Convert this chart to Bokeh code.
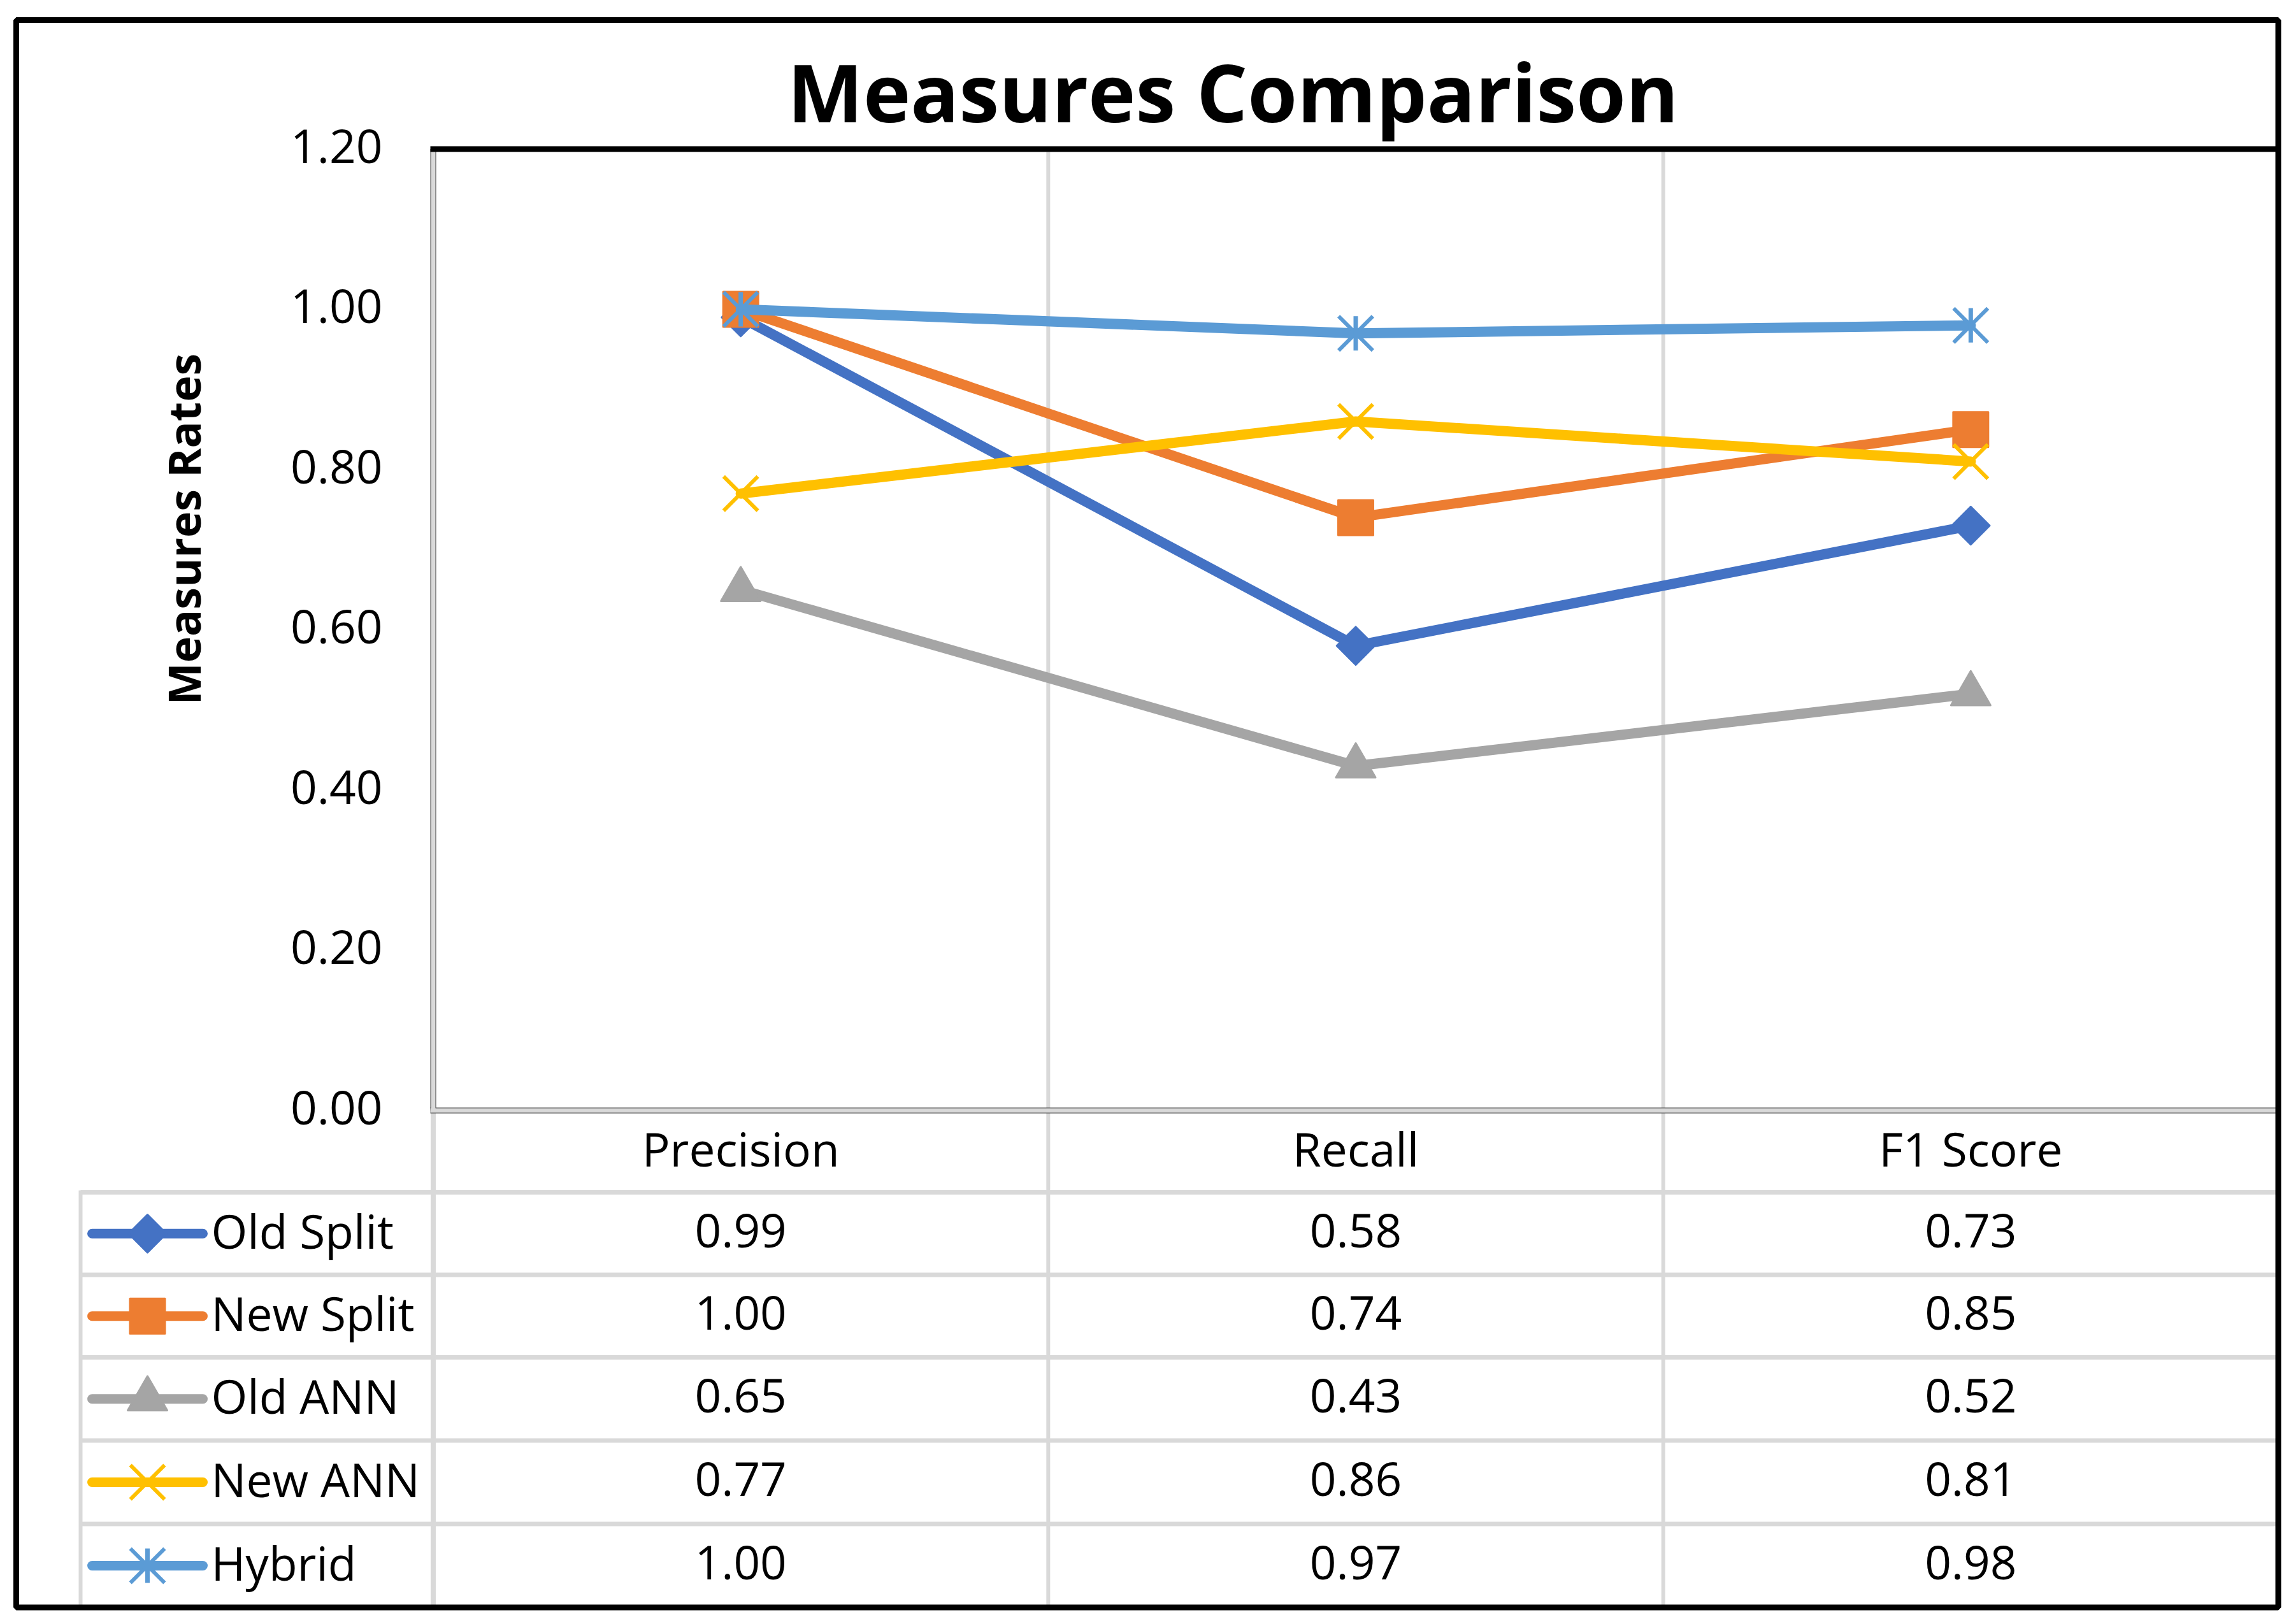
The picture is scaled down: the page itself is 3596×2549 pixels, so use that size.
import math
from bokeh.plotting import figure
from bokeh.models import Range1d
from bokeh.core.properties import value
from bokeh.embed import file_html
from bokeh.resources import INLINE

# ---------------- data ----------------
categories = ["Precision", "Recall", "F1 Score"]
series_names = ["Old Split", "New Split", "Old ANN", "New ANN", "Hybrid"]
old_split = [0.99, 0.58, 0.73]
new_split = [1.00, 0.74, 0.85]
old_ann = [0.65, 0.43, 0.52]
new_ann = [0.77, 0.86, 0.81]
hybrid = [1.00, 0.97, 0.98]
y_ticks = [0.0, 0.2, 0.4, 0.6, 0.8, 1.0, 1.2]
title_text = "Measures Comparison"
y_label = "Measures Rates"

series_values = [old_split, new_split, old_ann, new_ann, hybrid]
colors = ["#4472C4", "#ED7D31", "#A5A5A5", "#FFC000", "#5B9BD5"]

# ---------------- layout (pixels of the 3596x2549 page) ----------------
W, H = 3592, 2545
PAGE = 0
XPX0, XU = 679.5, 965.33     # pixel of category-axis 0 and px per category
YPX0, YU = 1742.5, 1257.5    # pixel of value 0 and px per unit


def fx(px):
    return (px - XPX0) / XU


def fy(py):
    return (YPX0 - py) / YU


p = figure(width=W, height=H, output_backend="svg", toolbar_location=None,
           x_axis_type=None, y_axis_type=None,
           x_range=Range1d(fx(PAGE), fx(PAGE + W)),
           y_range=Range1d(fy(PAGE + H), fy(PAGE)),
           min_border=0, min_border_left=0, min_border_right=0,
           min_border_top=0, min_border_bottom=0)
p.outline_line_color = None
p.background_fill_color = "white"
p.border_fill_color = "white"
p.grid.visible = False

FONT = value("Open Sans")
GRID = "#d9d9d9"

cat_x = [i + 0.5 for i in range(len(categories))]
right_px = 3575.5
row_lines_px = [1871.0, 2000.5, 2130.0, 2260.5, 2391.5]
bottom_px = 2522.5
header_mid_px = (YPX0 + row_lines_px[0]) / 2
row_bounds = row_lines_px + [bottom_px]
row_mid_px = [(row_bounds[i] + row_bounds[i + 1]) / 2 for i in range(len(series_names))]

# vertical category separators (plot + table)
seps = [float(i) for i in range(1, len(categories))]
p.segment(x0=seps, y0=[fy(238)] * len(seps), x1=seps, y1=[fy(bottom_px)] * len(seps),
          line_color=GRID, line_width=6)
# plot-left line continued into table
p.segment(x0=[0.0], y0=[fy(YPX0)], x1=[0.0], y1=[fy(bottom_px)], line_color=GRID, line_width=8)
# table horizontal lines
n = len(row_lines_px)
p.segment(x0=[fx(126)] * n, y0=[fy(v) for v in row_lines_px],
          x1=[fx(right_px)] * n, y1=[fy(v) for v in row_lines_px],
          line_color=GRID, line_width=7)
# table left line
p.segment(x0=[fx(126)], y0=[fy(row_lines_px[0] - 3)], x1=[fx(126)], y1=[fy(bottom_px)],
          line_color=GRID, line_width=6)

# plot frame: left and bottom bands (gray with dark edges), top black line
for col, lw in (("#404040", 9), (GRID, 7)):
    p.segment(x0=[0.0], y0=[fy(233.5)], x1=[0.0], y1=[0.0], line_color=col, line_width=lw)
    p.segment(x0=[fx(675)], y0=[0.0], x1=[fx(right_px)], y1=[0.0], line_color=col, line_width=lw)
p.segment(x0=[fx(675)], y0=[fy(233.5)], x1=[fx(right_px)], y1=[fy(233.5)],
          line_color="black", line_width=9)

# marker styles per series ("x" spans size/sqrt(2) in Bokeh)
marker_styles = [
    [dict(marker="square", size=42, angle=math.pi / 4, lw=3)],
    [dict(marker="square", size=55, angle=0.0, lw=3)],
    [dict(marker="triangle", size=62, angle=0.0, lw=3)],
    [dict(marker="x", size=76, angle=0.0, lw=6)],
    [dict(marker="x", size=76, angle=0.0, lw=6), dict(marker="dash", size=54, angle=math.pi / 2, lw=7)],
]


def draw_markers(xs, ys, color, styles):
    for st in styles:
        p.scatter(x=xs, y=ys, marker=st["marker"], size=st["size"], angle=st["angle"],
                  fill_color=color, line_color=color, line_width=st["lw"],
                  line_join="round")


# data lines + markers
for vals, col, st in zip(series_values, colors, marker_styles):
    p.line(x=cat_x, y=vals, line_color=col, line_width=16, line_join="round", line_cap="round")
    draw_markers(cat_x, vals, col, st)

# legend keys in table
for i, (name, col, st) in enumerate(zip(series_names, colors, marker_styles)):
    yc = fy(row_mid_px[i])
    p.line(x=[fx(144), fx(318)], y=[yc, yc], line_color=col, line_width=15, line_cap="round")
    draw_markers([fx(231)], [yc], col, st)

# texts
TXT = dict(text_font=FONT, text_font_size="73px", text_color="black", y_offset=-5)
p.text(x=[fx(331)] * len(series_names), y=[fy(v) for v in row_mid_px], text=series_names,
       text_align="left", text_baseline="middle", **TXT)
p.text(x=cat_x, y=[fy(header_mid_px)] * len(categories), text=categories,
       text_align="center", text_baseline="middle", **TXT)
for i, vals in enumerate(series_values):
    p.text(x=cat_x, y=[fy(row_mid_px[i])] * len(vals), text=[f"{v:.2f}" for v in vals],
           text_align="center", text_baseline="middle", **TXT)
p.text(x=[fx(600)] * len(y_ticks), y=y_ticks, text=[f"{t:.2f}" for t in y_ticks],
       text_align="right", text_baseline="middle", **TXT)

p.text(x=[fx(1935)], y=[fy(142)], text=[title_text], text_font=FONT, text_font_size="126px",
       text_font_style="bold", text_align="center", text_baseline="middle", text_color="black")
p.text(x=[fx(287)], y=[fy(830)], text=[y_label], angle=math.pi / 2, text_font=FONT,
       text_font_size="70px", text_font_style="bold", text_align="center",
       text_baseline="middle", text_color="black")

# outer border
p.quad(left=[fx(25)], right=[fx(right_px)], top=[fy(31)], bottom=[fy(bottom_px)],
       fill_color=None, line_color="black", line_width=9)

open("out.html", "w").write(file_html(p, INLINE))
